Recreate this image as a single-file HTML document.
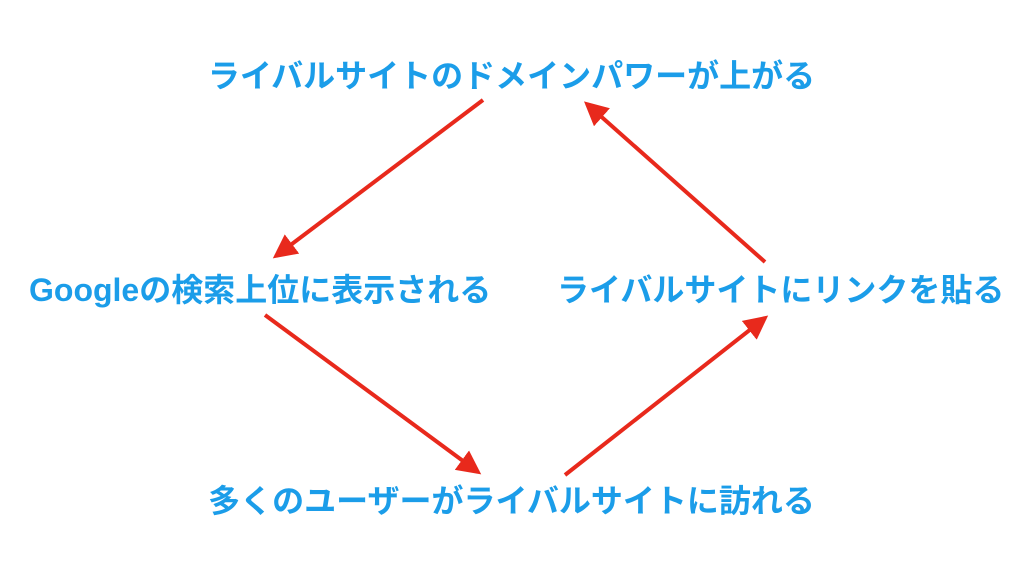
<!DOCTYPE html>
<html><head><meta charset="utf-8"><style>
html,body{margin:0;padding:0;background:#fff;}
body{width:1024px;height:576px;position:relative;overflow:hidden;}
.t{position:absolute;font-family:"Liberation Sans","Noto Sans CJK JP",sans-serif;font-weight:bold;font-size:32px;color:#1b9de9;white-space:nowrap;line-height:36px;}
</style></head><body>
<div class="t" style="left:193px;top:58px;width:637px;text-align:center;">ライバルサイトのドメインパワーが上がる</div>
<div class="t" style="left:29px;top:272px;">Googleの検索上位に表示される</div>
<div class="t" style="left:557px;top:272px;">ライバルサイトにリンクを貼る</div>
<div class="t" style="left:193px;top:483px;width:637px;text-align:center;">多くのユーザーがライバルサイトに訪れる</div>
<svg width="1024" height="576" style="position:absolute;left:0;top:0">
<defs><marker id="a" markerWidth="6" markerHeight="6" refX="5" refY="3" orient="auto" markerUnits="strokeWidth">
<path d="M0,0 L6,3 L0,6 z" fill="#e8291c"/></marker></defs>
<g stroke="#e8291c" stroke-width="4" fill="none">
<line x1="483" y1="100" x2="276" y2="256" marker-end="url(#a)"/>
<line x1="265" y1="315" x2="478" y2="472" marker-end="url(#a)"/>
<line x1="565" y1="475" x2="765" y2="318" marker-end="url(#a)"/>
<line x1="765" y1="262" x2="587" y2="104" marker-end="url(#a)"/>
</g></svg>
</body></html>
